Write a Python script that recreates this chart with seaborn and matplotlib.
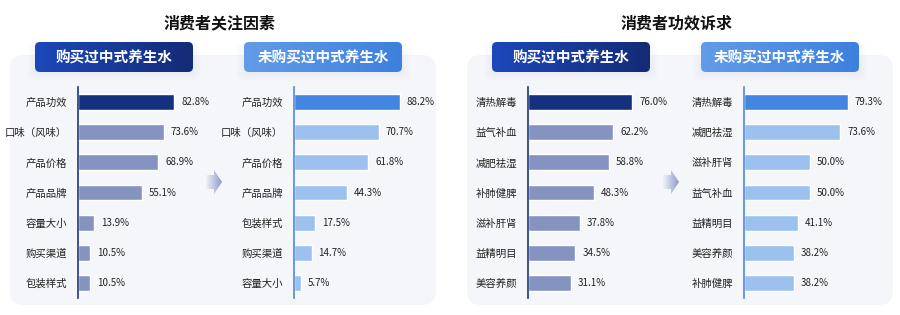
import numpy as np
import matplotlib
matplotlib.use('Agg')
import matplotlib.pyplot as plt
from matplotlib.patches import FancyBboxPatch, Polygon
import seaborn as sns

sns.set_style('white')
plt.rcParams['font.family'] = ['Noto Sans CJK SC', 'DejaVu Sans']

# data
focus_bought_cats = ['产品功效', '口味（风味）', '产品价格', '产品品牌', '容量大小', '购买渠道', '包装样式']
focus_bought_vals = [82.8, 73.6, 68.9, 55.1, 13.9, 10.5, 10.5]
focus_never_cats = ['产品功效', '口味（风味）', '产品价格', '产品品牌', '包装样式', '购买渠道', '容量大小']
focus_never_vals = [88.2, 70.7, 61.8, 44.3, 17.5, 14.7, 5.7]
effect_bought_cats = ['清热解毒', '益气补血', '减肥祛湿', '补肺健脾', '滋补肝肾', '益精明目', '美容养颜']
effect_bought_vals = [76.0, 62.2, 58.8, 48.3, 37.8, 34.5, 31.1]
effect_never_cats = ['清热解毒', '减肥祛湿', '滋补肝肾', '益气补血', '益精明目', '美容养颜', '补肺健脾']
effect_never_vals = [79.3, 73.6, 50.0, 50.0, 41.1, 38.2, 38.2]

titles = ['消费者关注因素', '消费者功效诉求']
headers = ['购买过中式养生水', '未购买过中式养生水']

W, H = 900, 315
fig = plt.figure(figsize=(9, 3.15), dpi=100)

# background layer in pixel coordinates
bg = fig.add_axes([0, 0, 1, 1], zorder=0)
bg.set_xlim(0, W)
bg.set_ylim(H, 0)
bg.axis('off')


def rounded(ax, x0, y0, x1, y1, r, **kw):
    p = FancyBboxPatch((x0 + r, y0 + r), (x1 - x0) - 2 * r, (y1 - y0) - 2 * r,
                       boxstyle=f'round,pad={r}', **kw)
    ax.add_patch(p)
    return p


def gradient_box(ax, x0, y0, x1, y1, c0, c1, text):
    # soft glow under the box
    for k in range(4):
        rounded(ax, x0 - 2 - 2 * k, y0 + 1, x1 + 2 + 2 * k, y1 + 3 + 2 * k, 7,
                facecolor='#a9b8e2', edgecolor='none', alpha=0.025, zorder=1.5)
    p = rounded(ax, x0, y0, x1, y1, 5, facecolor='none', edgecolor='none')
    c0 = np.array(matplotlib.colors.to_rgb(c0))
    c1 = np.array(matplotlib.colors.to_rgb(c1))
    t = np.linspace(0, 1, 64)
    grad = (c0[None, None, :] * (1 - t)[None, :, None] + c1[None, None, :] * t[None, :, None])
    im = ax.imshow(grad, extent=(x0, x1, y1, y0), aspect='auto', zorder=2)
    im.set_clip_path(p)
    ax.text((x0 + x1) / 2, (y0 + y1) / 2 + 0.5, text, color='white', fontsize=10.5,
            fontweight='bold', ha='center', va='center', zorder=3)


for off in [0, 457]:
    rounded(bg, 10 + off, 55, 436 + off, 305, 14, facecolor='#f5f6f9', edgecolor='none', zorder=1)
    gradient_box(bg, 35 + off, 42, 193 + off, 72, '#1c48bb', '#142b76', headers[0])
    gradient_box(bg, 244 + off, 42, 402 + off, 72, '#629ce8', '#3d80de', headers[1])
    # arrow between the two panels
    bx = 206 + off
    arrow = Polygon([(bx, 175), (bx + 8, 175), (bx + 8, 170), (bx + 16, 182),
                     (bx + 8, 194), (bx + 8, 189), (bx, 189)], closed=True,
                    facecolor='none', edgecolor='none')
    bg.add_patch(arrow)
    ag = np.linspace(0, 1, 32)[None, :]
    aim = bg.imshow(ag, cmap=matplotlib.colors.LinearSegmentedColormap.from_list(
        'a', ['#eef1f8', '#8d9ccb']), extent=(bx, bx + 16, 194, 170), aspect='auto', zorder=2)
    aim.set_clip_path(arrow)

bg.text(220, 23, titles[0], fontsize=11.5, fontweight='bold', ha='center', va='center', color='#111111')
bg.text(677, 23, titles[1], fontsize=11.5, fontweight='bold', ha='center', va='center', color='#111111')

panels = [
    (focus_bought_cats, focus_bought_vals, 78, 111.6, '#15307e', '#8593c0', '#1f3674'),
    (focus_never_cats, focus_never_vals, 294, 108.3, '#4286e0', '#9dc1ef', '#4a8ae0'),
    (effect_bought_cats, effect_bought_vals, 528, 94.9, '#15307e', '#8593c0', '#1f3674'),
    (effect_never_cats, effect_never_vals, 744, 99.2, '#4286e0', '#9dc1ef', '#4a8ae0'),
]

top_px, bot_px, width_px = 87, 298, 130
for cats, vals, x_px, xmax, c_top, c_rest, spine_c in panels:
    ax = fig.add_axes([x_px / W, (H - bot_px) / H, width_px / W, (bot_px - top_px) / H], zorder=2)
    ax.patch.set_alpha(0)
    pal = {c: (c_top if i == 0 else c_rest) for i, c in enumerate(cats)}
    sns.barplot(x=vals, y=cats, hue=cats, palette=pal, orient='h', width=0.53,
                legend=False, saturation=1, ax=ax)
    for cont in ax.containers:
        ax.bar_label(cont, fmt='%.1f%%', padding=5, fontsize=7, color='#222222')
    ax.set_xlim(0, xmax)
    ax.set_ylim(len(cats) - 0.5, -0.5)
    ax.set_xticks([])
    ax.set_xlabel('')
    ax.set_ylabel('')
    for s in ['top', 'right', 'bottom']:
        ax.spines[s].set_visible(False)
    ax.spines['left'].set_color(spine_c)
    ax.spines['left'].set_linewidth(1.2)
    ax.set_yticks(np.arange(-0.5, len(cats)), minor=True)
    ax.tick_params(axis='y', which='major', length=0, pad=8, labelsize=7.5, labelcolor='#222222')
    ax.tick_params(axis='y', which='minor', length=3.5, width=1.1, color=spine_c, direction='out')

fig.savefig('out.png', dpi=100)
